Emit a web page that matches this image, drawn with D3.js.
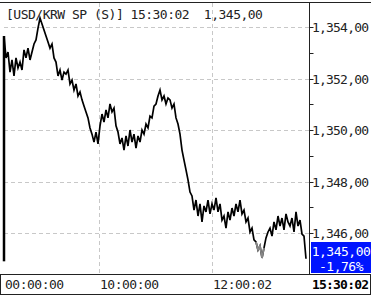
<!DOCTYPE html>
<html>
<head>
<meta charset="utf-8">
<script src="https://cdn.jsdelivr.net/npm/d3@7"></script>
<style>
body { margin: 0; background: #fff; }
svg { display: block; }
text { font-family: "DejaVu Sans Mono", "Liberation Mono", monospace; font-size: 13px; letter-spacing: -0.5px; white-space: pre; }
</style>
</head>
<body>
<div id="chart"></div>
<script>
var width = 371;
var height = 296;

// price every ~2px of the session
var prices = [
    1353.65, 1352.80, 1353.03, 1352.25, 1352.72, 1352.10, 1352.80, 1352.41, 1352.64, 1352.33,
    1353.11, 1352.80, 1353.18, 1352.72, 1353.03, 1353.34, 1353.50, 1353.96, 1354.35, 1354.12,
    1353.88, 1353.65, 1353.42, 1353.18, 1353.34, 1352.80, 1352.64, 1352.10, 1352.33, 1351.94,
    1352.25, 1352.17, 1352.33, 1351.79, 1351.94, 1351.55, 1351.79, 1351.32, 1351.48, 1351.17,
    1350.93, 1350.70, 1350.47, 1350.08, 1349.84, 1349.53, 1349.92, 1349.46, 1350.16, 1350.62,
    1350.31, 1350.78, 1350.47, 1351.01, 1350.70, 1350.85, 1350.16, 1349.92, 1349.46, 1349.69,
    1349.22, 1349.77, 1349.38, 1350.00, 1349.53, 1349.84, 1349.30, 1349.77, 1349.53, 1350.00,
    1349.84, 1350.23, 1350.08, 1350.54, 1350.47, 1350.93, 1351.01, 1351.32, 1351.55, 1351.17,
    1351.32, 1351.01, 1351.24, 1351.17, 1350.85, 1351.01, 1350.47, 1350.23, 1349.84, 1349.22,
    1348.83, 1348.45, 1348.06, 1347.59, 1347.44, 1346.89, 1347.28, 1346.66, 1347.13, 1346.43,
    1347.05, 1346.82, 1347.28, 1346.74, 1347.13, 1346.89, 1347.36, 1346.82, 1347.13, 1346.50,
    1346.66, 1346.19, 1346.82, 1346.50, 1346.97, 1346.66, 1347.13, 1346.82, 1347.28, 1346.74,
    1346.89, 1346.43, 1346.58, 1346.04, 1346.19, 1345.73, 1345.65, 1345.34, 1345.50, 1345.03,
    1345.42, 1345.81, 1346.04, 1346.19, 1345.88, 1346.43, 1346.12, 1346.66, 1346.27, 1346.58,
    1346.12, 1346.74, 1346.43, 1346.27, 1346.58, 1346.04, 1346.82, 1346.27, 1346.50, 1345.96,
    1345.88, 1345.00
];
var grayIdx = [126, 130];

var timeTicks = [0, 47.5, 104];
var timeLabels = ["00:00:00", "10:00:00", "12:00:02"];
var lastTime = "15:30:02";

var yTicks = [1346, 1348, 1350, 1352, 1354];
var yMinor = [1347, 1349, 1351, 1353];

var title = "[USD/KRW SP (S)] 15:30:02  1,345,00";
var lastPrice = "1,345,00";
var change = "-1,76%";

var axisX = 309.5;
var bottomY = 274.5;

var svg = d3.select("#chart").append("svg")
    .attr("width", width)
    .attr("height", height);

var x = d3.scaleLinear().domain([0, prices.length - 1]).range([4, 306]);
var y = d3.scaleLinear().domain([1346, 1354]).range([233, 27]);

function fmt(v) { return d3.format(",.2f")(v).replace(".", ","); }

// grid
svg.selectAll(".hgrid").data(yTicks).enter().append("line")
    .attr("x1", 4).attr("x2", axisX)
    .attr("y1", function(d){ return Math.round(y(d)) + 0.5; })
    .attr("y2", function(d){ return Math.round(y(d)) + 0.5; })
    .attr("stroke", "#c8c8c8").attr("stroke-dasharray", "4,3");

svg.selectAll(".vgrid").data(timeTicks.slice(1)).enter().append("line")
    .attr("x1", function(d){ return Math.round(x(d)) + 0.5; })
    .attr("x2", function(d){ return Math.round(x(d)) + 0.5; })
    .attr("y1", 3).attr("y2", bottomY)
    .attr("stroke", "#c8c8c8").attr("stroke-dasharray", "4,3");

// title
svg.append("text").attr("x", 6).attr("y", 19).attr("fill", "#222").text(title);

// price line
var line = d3.line()
    .x(function(d, i){ return x(i); })
    .y(function(d){ return y(d); });

svg.append("line")
    .attr("x1", 4).attr("x2", 4)
    .attr("y1", y(prices[0])).attr("y2", y(1344.9))
    .attr("stroke", "#000").attr("stroke-width", 2.5);

svg.append("path").datum(prices)
    .attr("d", line)
    .attr("fill", "none").attr("stroke", "#000").attr("stroke-width", 1.7);

var grayLine = d3.line()
    .x(function(d, i){ return x(i + grayIdx[0]); })
    .y(function(d){ return y(d); });
svg.append("path").datum(prices.slice(grayIdx[0], grayIdx[1] + 1))
    .attr("d", grayLine)
    .attr("fill", "none").attr("stroke", "#888").attr("stroke-width", 1.7);

// frame
svg.append("line").attr("x1", 0).attr("x2", width).attr("y1", 2.5).attr("y2", 2.5)
    .attr("stroke", "#222");
svg.append("line").attr("x1", axisX).attr("x2", axisX).attr("y1", 2).attr("y2", bottomY)
    .attr("stroke", "#222");
svg.append("line").attr("x1", 0).attr("x2", width).attr("y1", bottomY).attr("y2", bottomY)
    .attr("stroke", "#222");
svg.append("line").attr("x1", 0).attr("x2", width).attr("y1", 294.5).attr("y2", 294.5)
    .attr("stroke", "#222");
svg.append("line").attr("x1", 0.5).attr("x2", 0.5).attr("y1", bottomY).attr("y2", 295)
    .attr("stroke", "#222");
svg.append("line").attr("x1", 370.5).attr("x2", 370.5).attr("y1", bottomY).attr("y2", 295)
    .attr("stroke", "#222");

// right axis
svg.selectAll(".tick").data(yTicks.concat(yMinor)).enter().append("line")
    .attr("x1", axisX).attr("x2", axisX + 4)
    .attr("y1", function(d){ return Math.round(y(d)) + 0.5; })
    .attr("y2", function(d){ return Math.round(y(d)) + 0.5; })
    .attr("stroke", "#222");

svg.selectAll(".ylab").data(yTicks).enter().append("text")
    .attr("x", 312)
    .attr("y", function(d){ return y(d) + 5; })
    .attr("fill", "#222")
    .style("letter-spacing", "-0.8px")
    .text(fmt);

// last price box
svg.append("rect").attr("x", 311).attr("y", 242).attr("width", 60).attr("height", 31)
    .attr("fill", "#0014ff");
svg.append("text").attr("x", 341).attr("y", 256).attr("text-anchor", "middle")
    .attr("fill", "#fff").text(lastPrice);
svg.append("text").attr("x", 341).attr("y", 271).attr("text-anchor", "middle")
    .attr("fill", "#fff").text(change);

// time axis
svg.selectAll(".xlab").data(timeTicks).enter().append("text")
    .attr("x", function(d){ return x(d) + 1; })
    .attr("y", 289)
    .attr("fill", "#222")
    .text(function(d, i){ return timeLabels[i]; });

svg.append("text").attr("x", 312).attr("y", 289)
    .attr("font-weight", "bold").attr("fill", "#000")
    .style("letter-spacing", "-0.8px")
    .text(lastTime);
</script>
</body>
</html>
